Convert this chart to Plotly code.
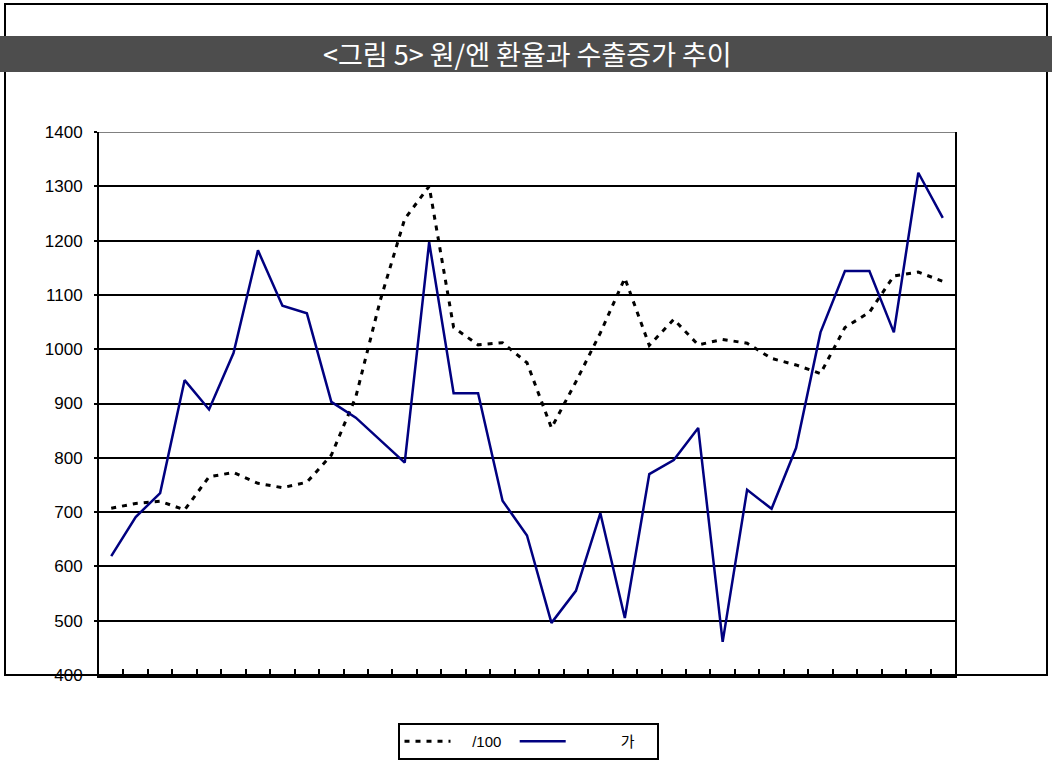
import plotly.graph_objects as go

# Period index (35 periods; the category axis carries no text labels)
periods = list(range(35))

# 원/엔 환율 (/100)
won_yen = [707, 716, 720, 704, 765, 773, 753, 745, 755, 805,
           912, 1090, 1240, 1300, 1040, 1008, 1012, 975, 855, 940,
           1030, 1131, 1007, 1055, 1008, 1018, 1011, 983, 971, 955,
           1040, 1068, 1135, 1142, 1125]

# 수출증가
export_growth = [619, 691, 735, 943, 889, 993, 1182, 1080, 1066, 903,
                 874, 833, 791, 1197, 919, 919, 721, 657, 496, 555,
                 698, 505, 770, 796, 855, 461, 741, 706, 818, 1031,
                 1144, 1144, 1031, 1325, 1242]

series_names = ["/100", "가"]
title_text = "<그림 5> 원/엔 환율과 수출증가 추이"
y_ticks = list(range(400, 1401, 100))

W, H = 1052, 760
L, R, T, B = 99, 955, 132, 675  # plot area in page pixels
NB = "\u00a0"  # non-collapsing space used to pad legend entries


def px(x):
    return (x - L) / (R - L)


def py(y):
    return (B - y) / (B - T)


fig = go.Figure()
fig.add_trace(go.Scatter(
    x=periods, y=won_yen, mode="lines",
    name=NB * 4 + series_names[0] + NB * 2,
    line=dict(color="black", width=3, dash="5px,6px"),
))
fig.add_trace(go.Scatter(
    x=periods, y=export_growth, mode="lines",
    name=NB * 12 + series_names[1] + NB * 4,
    line=dict(color="#000080", width=2.5),
))

shapes = [
    # outer frame
    dict(type="rect", xref="paper", yref="paper",
         x0=px(5), x1=px(1047), y0=py(675), y1=py(4),
         line=dict(color="black", width=2), layer="above"),
    # title band
    dict(type="rect", xref="paper", yref="paper",
         x0=px(0), x1=px(W), y0=py(72), y1=py(36),
         fillcolor="#4d4d4d", line=dict(width=0), layer="above"),
    # top edge of the plot area
    dict(type="line", xref="paper", yref="y", x0=0, x1=1, y0=1400, y1=1400,
         line=dict(color="#808080", width=2), layer="above"),
]

fig.update_layout(
    width=W, height=H,
    margin=dict(l=L, r=W - R, t=T, b=H - B, autoexpand=False),
    paper_bgcolor="white", plot_bgcolor="white",
    font=dict(family="Liberation Sans, Arial, sans-serif", color="black", size=17),
    showlegend=True,
    legend=dict(
        orientation="h", xanchor="center", yanchor="top",
        x=px(528), y=py(723),
        bordercolor="black", borderwidth=2, bgcolor="white",
        font=dict(size=15, family="Liberation Sans, Noto Sans CJK KR, sans-serif"),
        itemwidth=46,
    ),
    shapes=shapes,
    annotations=[dict(
        text=title_text, xref="paper", yref="paper",
        x=px(527), y=py(54), xanchor="center", yanchor="middle",
        showarrow=False,
        font=dict(family="Noto Sans CJK KR", size=27, color="white"),
    )],
)

fig.update_xaxes(
    range=[-0.5, 34.5],
    tickmode="array", tickvals=[p + 0.5 for p in periods[:-1]],
    ticks="inside", ticklen=6, tickwidth=2, tickcolor="black",
    showticklabels=False, showgrid=False, zeroline=False,
    showline=True, linecolor="black", linewidth=3,
)
fig.update_yaxes(
    range=[400, 1400],
    tickmode="array", tickvals=y_ticks,
    ticks="outside", ticklen=3, tickwidth=2, tickcolor="black",
    showgrid=True, gridcolor="black", gridwidth=2,
    zeroline=False, showline=True, linecolor="black", linewidth=2,
    mirror=True, ticklabelstandoff=8,
)

fig.write_html("out.html")
